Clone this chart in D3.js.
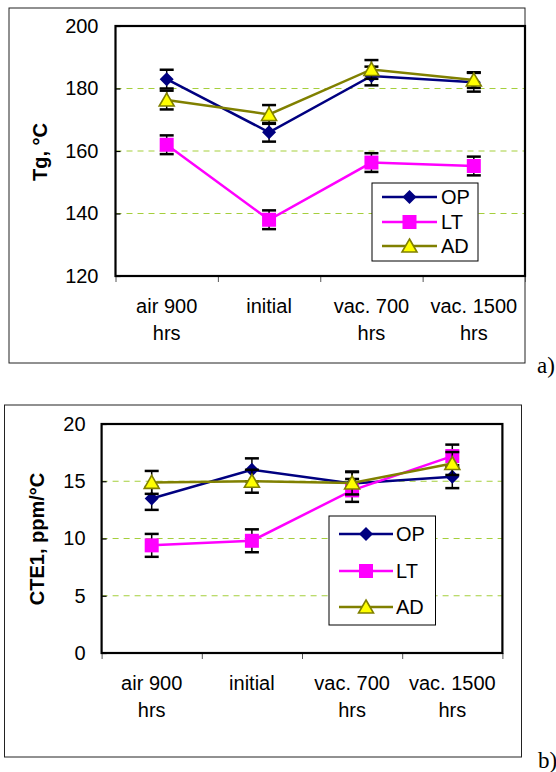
<!DOCTYPE html>
<html>
<head>
<meta charset="utf-8">
<script src="https://cdn.jsdelivr.net/npm/d3@7"></script>
<style>
  body { margin: 0; background: #fff; }
  svg text { font-family: "Liberation Sans", Arial, sans-serif; fill: #000; }
</style>
</head>
<body>
<div id="chart"></div>
<script>
// Categories and series
const categories = ["air 900|hrs", "initial", "vac. 700|hrs", "vac. 1500|hrs"];
const seriesNames = ["OP", "LT", "AD"];

// Panel a) Tg
const tgTicks = [120, 140, 160, 180, 200];
const tgGrid = [140, 160, 180];
const tgOP = [183, 166, 184, 182];
const tgOPErr = [3, 3, 3, 3];
const tgLT = [162, 138, 156.3, 155.2];
const tgLTErr = [3, 3, 3, 3];
const tgAD = [176.3, 171.7, 186.1, 182.7];
const tgADErr = [3, 3, 3, 2.5];

// Panel b) CTE1
const cteTicks = [0, 5, 10, 15, 20];
const cteGrid = [5, 10, 15];
const cteOP = [13.5, 16.0, 14.8, 15.4];
const cteOPErr = [1, 1, 1, 1];
const cteLT = [9.4, 9.8, 14.2, 17.2];
const cteLTErr = [1, 1, 1, 1];
const cteAD = [14.9, 15.0, 14.85, 16.55];
const cteADErr = [1, 1, 1, 1];

const colors = {OP: "#000080", LT: "#ff00ff", AD: "#808000"};
const fills = {OP: "#000080", LT: "#ff00ff", AD: "#ffff00"};

const svg = d3.select("#chart").append("svg")
    .attr("width", 556)
    .attr("height", 772);

function markerPath(name) {
  if (name === "OP") return "M0,-7L7,0L0,7L-7,0Z";
  if (name === "LT") return "M-7,-7L7,-7L7,7L-7,7Z";
  return "M0,-7L7.5,6L-7.5,6Z";
}

function drawPanel(p) {
  // outer frame
  svg.append("rect")
      .attr("x", p.frame[0]).attr("y", p.frame[1])
      .attr("width", p.frame[2] - p.frame[0]).attr("height", p.frame[3] - p.frame[1])
      .attr("fill", "none").attr("stroke", "#222").attr("stroke-width", 1);

  const x = d3.scaleBand().domain(categories).range([p.left, p.right]);
  const y = d3.scaleLinear().domain([p.ticks[0], p.ticks[p.ticks.length - 1]]).range([p.bottom, p.top]);

  // dashed grid
  svg.append("g").selectAll("line")
    .data(p.grid)
    .enter().append("line")
      .attr("x1", p.left).attr("x2", p.right)
      .attr("y1", d => y(d)).attr("y2", d => y(d))
      .attr("stroke", "#a5cf3c").attr("stroke-width", 1.2)
      .attr("stroke-dasharray", "6,5");

  // y axis
  const yAxis = svg.append("g")
      .attr("transform", "translate(" + p.left + ",0)")
      .call(d3.axisLeft(y).tickValues(p.ticks).tickSize(-5).tickPadding(p.pad));
  yAxis.select(".domain").remove();
  yAxis.selectAll(".tick line").attr("stroke", "#000").attr("stroke-width", 1.2);
  yAxis.selectAll(".tick text").style("font-size", "20px");

  // x axis boundary ticks
  const xb = d3.scaleLinear().domain([0, categories.length]).range([p.left, p.right]);
  const xAxis = svg.append("g")
      .attr("transform", "translate(0," + p.bottom + ")")
      .call(d3.axisBottom(xb).tickValues(d3.range(categories.length + 1)).tickFormat("").tickSize(6));
  xAxis.select(".domain").remove();
  xAxis.selectAll(".tick line").attr("stroke", "#555").attr("stroke-width", 1);

  // category labels
  const lab = svg.append("g").selectAll("text")
    .data(categories)
    .enter().append("text")
      .attr("text-anchor", "middle")
      .style("font-size", "20px");
  lab.each(function(d) {
    const parts = d.split("|");
    const t = d3.select(this);
    parts.forEach((s, i) => {
      t.append("tspan")
        .attr("x", x(d) + x.bandwidth() / 2)
        .attr("y", p.labelY + i * 27)
        .text(s);
    });
  });

  // plot border
  svg.append("rect")
      .attr("x", p.left).attr("y", p.top)
      .attr("width", p.right - p.left).attr("height", p.bottom - p.top)
      .attr("fill", "none").attr("stroke", "#000").attr("stroke-width", 2.2);

  const cx = d => x(d) + x.bandwidth() / 2;
  const line = d3.line().x(d => cx(d.cat)).y(d => y(d.v));

  p.series.forEach(s => {
    const pts = categories.map((c, i) => ({cat: c, v: s.values[i], e: s.err[i]}));
    const g = svg.append("g");
    g.append("path")
        .datum(pts)
        .attr("d", line)
        .attr("fill", "none")
        .attr("stroke", colors[s.name])
        .attr("stroke-width", 2.5);
    // error bars
    const eb = g.selectAll(".eb").data(pts).enter().append("g").attr("class", "eb");
    eb.append("line")
        .attr("x1", d => cx(d.cat)).attr("x2", d => cx(d.cat))
        .attr("y1", d => y(d.v - d.e)).attr("y2", d => y(d.v + d.e))
        .attr("stroke", "#000").attr("stroke-width", 1.5);
    [-1, 1].forEach(sg => {
      eb.append("line")
          .attr("x1", d => cx(d.cat) - 7).attr("x2", d => cx(d.cat) + 7)
          .attr("y1", d => y(d.v + sg * d.e)).attr("y2", d => y(d.v + sg * d.e))
          .attr("stroke", "#000").attr("stroke-width", 2.5);
    });
    // markers
    g.selectAll(".mk").data(pts).enter().append("path")
        .attr("class", "mk")
        .attr("transform", d => "translate(" + cx(d.cat) + "," + y(d.v) + ")")
        .attr("d", markerPath(s.name))
        .attr("fill", fills[s.name])
        .attr("stroke", s.name === "AD" ? colors.AD : "none")
        .attr("stroke-width", 1.6);
  });

  // legend
  const L = p.legend;
  svg.append("rect")
      .attr("x", L.x0).attr("y", L.y0)
      .attr("width", L.x1 - L.x0).attr("height", L.y1 - L.y0)
      .attr("fill", "#fff").attr("stroke", "#000").attr("stroke-width", 1);
  seriesNames.forEach((n, i) => {
    const yy = L.rows[i];
    svg.append("line")
        .attr("x1", L.lx0).attr("x2", L.lx1)
        .attr("y1", yy).attr("y2", yy)
        .attr("stroke", colors[n]).attr("stroke-width", 2.5);
    svg.append("path")
        .attr("transform", "translate(" + (L.lx0 + L.lx1) / 2 + "," + yy + ")")
        .attr("d", markerPath(n))
        .attr("fill", fills[n])
        .attr("stroke", n === "AD" ? colors.AD : "none")
        .attr("stroke-width", 1.6);
    svg.append("text")
        .attr("x", L.tx).attr("y", yy)
        .attr("dy", "0.36em")
        .style("font-size", "20px")
        .text(n);
  });

  // axis title
  svg.append("text")
      .attr("transform", "translate(" + p.titleX + "," + p.titleY + ") rotate(-90)")
      .attr("text-anchor", "middle")
      .attr("dy", "0.36em")
      .style("font-size", "20px")
      .style("font-weight", "bold")
      .text(p.title);

  // panel letter
  svg.append("text")
      .attr("x", p.letter[0]).attr("y", p.letter[1])
      .style("font-family", "'Liberation Serif', 'Times New Roman', serif")
      .style("font-size", "23px")
      .text(p.letter[2]);
}

drawPanel({
  frame: [9, 8, 525, 363],
  left: 115.5, right: 525, top: 26, bottom: 276,
  ticks: tgTicks, grid: tgGrid, pad: 17,
  labelY: 313,
  series: [
    {name: "OP", values: tgOP, err: tgOPErr},
    {name: "LT", values: tgLT, err: tgLTErr},
    {name: "AD", values: tgAD, err: tgADErr}
  ],
  legend: {x0: 372, x1: 478, y0: 183, y1: 261, rows: [197, 222, 246], lx0: 382, lx1: 437, tx: 441},
  title: "Tg, \u00B0C", titleX: 40, titleY: 152,
  letter: [537, 373, "a)"]
});

drawPanel({
  frame: [4.5, 405, 521.5, 757],
  left: 101.6, right: 502.4, top: 424, bottom: 653,
  ticks: cteTicks, grid: cteGrid, pad: 16,
  labelY: 690,
  series: [
    {name: "OP", values: cteOP, err: cteOPErr},
    {name: "LT", values: cteLT, err: cteLTErr},
    {name: "AD", values: cteAD, err: cteADErr}
  ],
  legend: {x0: 329, x1: 435.5, y0: 516, y1: 625, rows: [534, 571, 607], lx0: 339, lx1: 393, tx: 396},
  title: "CTE1, ppm/\u00B0C", titleX: 37, titleY: 539,
  letter: [538, 768, "b)"]
});
</script>
</body>
</html>
